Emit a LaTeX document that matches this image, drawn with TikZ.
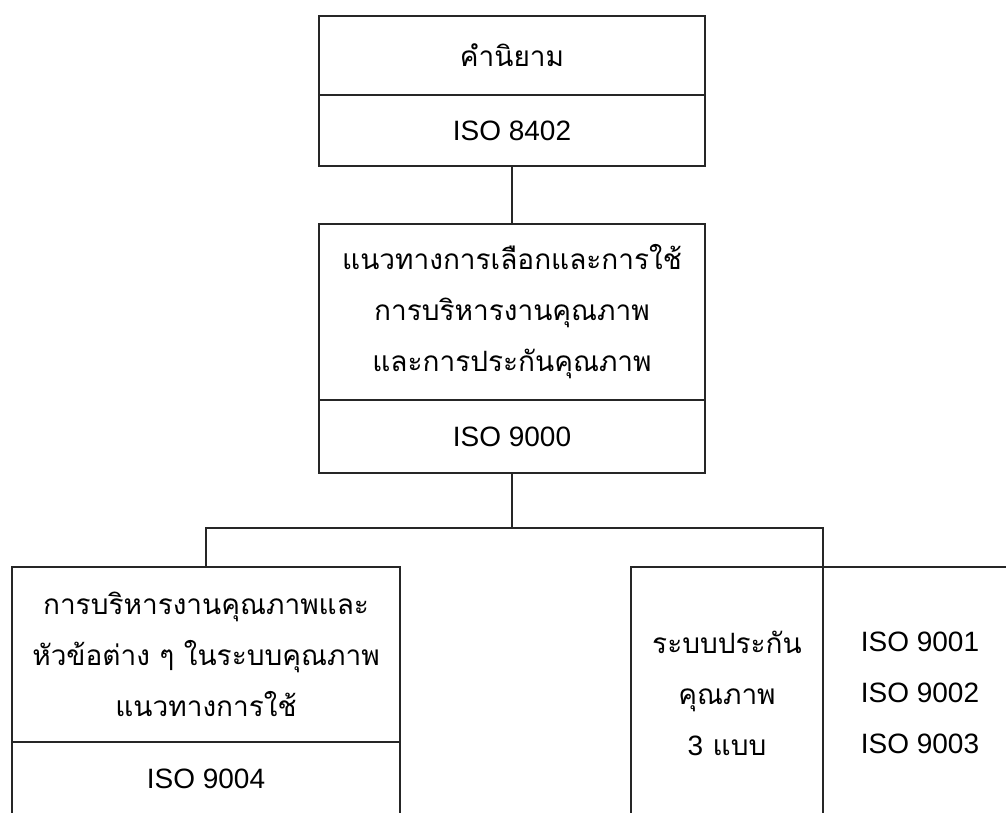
\documentclass[tikz,border=0pt]{standalone}
\usepackage{fontspec}
\setmainfont{Liberation Sans}
\newfontfamily\thai[Script=Thai]{Loma}
\begin{document}
\begin{tikzpicture}[x=1pt,y=-1pt,
  box/.style={draw=black!85, line width=1.3pt, rectangle, inner sep=0pt, outer sep=0pt, anchor=north west, align=center},
  conn/.style={draw=black!85, line width=1.3pt},
  txt/.style={font=\fontsize{28}{51}\selectfont},
  thtxt/.style={font=\fontsize{28}{51}\selectfont\thai}]
\useasboundingbox (0,0) rectangle (1006,813);
\clip (0,0) rectangle (1006,813);
\node[box, thtxt, minimum width=386pt, minimum height=79pt] (t1) at (319,16) {คำนิยาม};
\node[box, txt, minimum width=386pt, minimum height=71pt] (t2) at (319,95) {ISO 8402};
\node[box, thtxt, minimum width=386pt, minimum height=176pt] (m1) at (319,224) {แนวทางการเลือกและการใช้\\การบริหารงานคุณภาพ\\และการประกันคุณภาพ};
\node[box, txt, minimum width=386pt, minimum height=73pt] (m2) at (319,400) {ISO 9000};
\node[box, thtxt, minimum width=388pt, minimum height=175pt] (l1) at (12,567) {การบริหารงานคุณภาพและ\\หัวข้อต่าง ๆ ในระบบคุณภาพ\\แนวทางการใช้};
\node[box, txt, minimum width=388pt, minimum height=74pt] (l2) at (12,742) {ISO 9004};
\node[box, thtxt, minimum width=192pt, minimum height=252pt] (r1) at (631,567) {ระบบประกัน\\คุณภาพ\\{\fontspec{Liberation Sans}3} แบบ};
\node[box, txt, minimum width=194pt, minimum height=252pt] (r2) at (823,567) {ISO 9001\\ISO 9002\\ISO 9003};
\coordinate (j) at (m2.south |- 0,528);
\coordinate (jl) at (l1.north |- j);
\coordinate (jr) at (r1.north east |- j);
\draw[conn] (t2.south) -- (m1.north);
\draw[conn] (m2.south) -- (j);
\draw[conn] (l1.north) -- (jl) -- (jr) -- (r1.north east);
\end{tikzpicture}
\end{document}
